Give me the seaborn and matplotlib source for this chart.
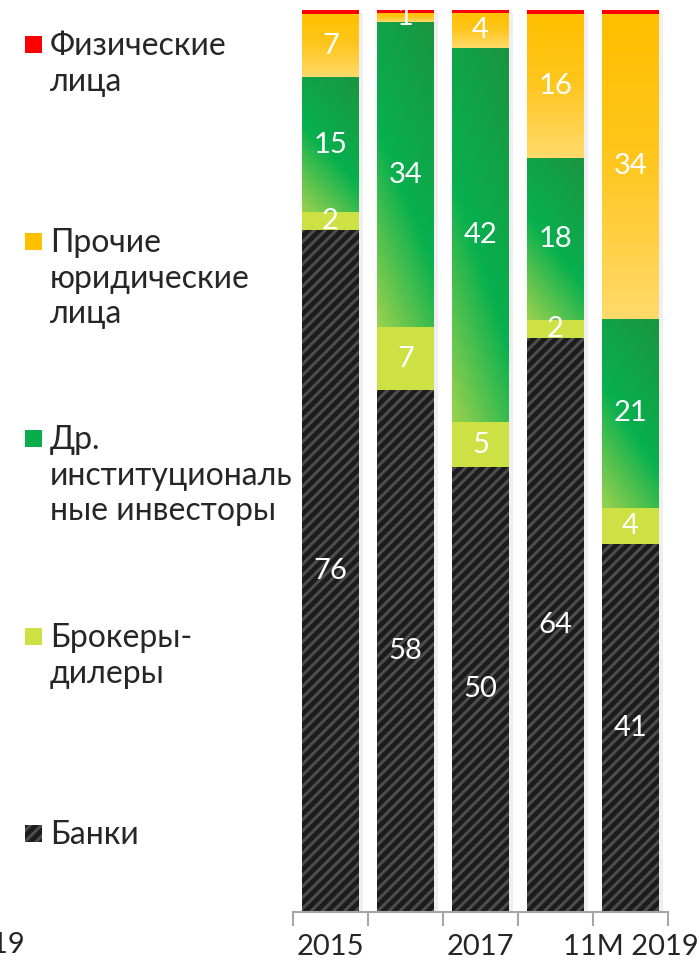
import matplotlib

matplotlib.use("Agg")
import matplotlib.pyplot as plt  # noqa: E402
import matplotlib.patheffects as pe  # noqa: E402
from matplotlib.colors import LinearSegmentedColormap  # noqa: E402
from matplotlib.patches import Rectangle  # noqa: E402
import numpy as np  # noqa: E402
import pandas as pd  # noqa: E402
import seaborn as sns  # noqa: E402

# ---------------------------------------------------------------------------
# Data (shares, %)
# ---------------------------------------------------------------------------
periods = ["2015", "2016", "2017", "2018", "11M 2019"]
tick_labels = ["2015", "", "2017", "", "11M 2019"]
banks = [76, 58, 50, 64, 41]
brokers = [2, 7, 5, 2, 4]
institutional = [15, 34, 42, 18, 21]
other_legal = [7, 1, 4, 16, 34]
individuals = [0.5, 0.3, 0.3, 0.5, 0.4]

legend_labels = [
    "Физические\nлица",
    "Прочие\nюридические\nлица",
    "Др.\nинституциональ\nные инвесторы",
    "Брокеры-\nдилеры",
    "Банки",
]

RED = "#ff0000"
YELLOW = "#ffc000"
GREEN = "#0aad4e"
LIME = "#cde044"
BLACK = "#1c1c1c"
STRIPE = "#4d4d4d"
TEXT = "#262626"
FS = 21
LEG_FS = 23

sns.set_theme(style="white")
plt.rcParams["font.family"] = ["Lato", "DejaVu Sans"]
plt.rcParams["hatch.linewidth"] = 2.2

df = pd.DataFrame({
    "period": periods,
    "banks": banks,
    "brokers": brokers,
    "institutional": institutional,
    "other_legal": other_legal,
    "individuals": individuals,
})
layers = ["banks", "brokers", "institutional", "other_legal", "individuals"]
total = df[layers].sum(axis=1)
cum = df[layers].div(total, axis=0).mul(100).cumsum(axis=1)

fig = plt.figure(figsize=(6.99, 9.63), dpi=100)
ax = fig.add_axes([293 / 699, 1 - 912 / 963, 375 / 699, 902 / 963])

# stacked bars: draw the cumulative totals from the top layer down
colors = {"individuals": RED, "other_legal": YELLOW, "institutional": GREEN,
          "brokers": LIME, "banks": BLACK}
containers = {}
for name in reversed(layers):
    kw = dict(linewidth=0, edgecolor=colors[name])
    if name == "banks":
        kw.update(hatch="///", edgecolor=STRIPE)
    sns.barplot(x=df["period"], y=cum[name], color=colors[name], width=0.76,
                saturation=1, ax=ax, **kw)
    containers[name] = ax.containers[-1]

for p in containers["individuals"].patches:
    p.set_path_effects([pe.SimplePatchShadow(offset=(3, -2), alpha=0.12,
                                             shadow_rgbFace="#808080"),
                        pe.Normal()])

green_cmap = LinearSegmentedColormap.from_list(
    "g", [(0, "#9ad24e"), (0.45, "#08b04f"), (1, "#1a9540")])
yellow_cmap = LinearSegmentedColormap.from_list(
    "y", [(0, "#ffda6a"), (0.55, "#ffc51a"), (1, "#ffc000")])

u = np.linspace(0, 1, 80)
uu, vv = np.meshgrid(u, u)
grad_diag = (vv + 0.45 * uu) / 1.45
grad_vert = vv


def paint(layer, below, cmap, grad):
    for i, p in enumerate(containers[layer].patches):
        x0, w = p.get_x(), p.get_width()
        y0, y1 = cum[below].iloc[i], p.get_height()
        im = ax.imshow(grad, cmap=cmap, vmin=0, vmax=1, origin="lower",
                       extent=(x0, x0 + w, y0, y1), aspect="auto",
                       interpolation="bilinear", zorder=1.5)
        im.set_clip_path(p)


paint("institutional", "brokers", green_cmap, grad_diag)
paint("other_legal", "institutional", yellow_cmap, grad_vert)

# value labels centred in each segment
prev = pd.Series(0.0, index=df.index)
for name in layers[:-1]:
    for i in range(len(df)):
        y = (prev.iloc[i] + cum[name].iloc[i]) / 2
        ax.text(i, y, f"{df[name].iloc[i]:g}", ha="center", va="center",
                color="white", fontsize=FS, zorder=3)
    prev = cum[name]

ax.set_xlim(-0.5, 4.5)
ax.set_ylim(0, 100)
ax.set_ylabel("")
ax.set_xlabel("")
ax.set_yticks([])
ax.set_xticks(range(len(periods)))
ax.set_xticklabels(tick_labels, fontsize=FS, color=TEXT)
ax.set_xticks(np.arange(-0.5, 5, 1), minor=True)
ax.tick_params(axis="x", which="major", bottom=True, length=0, pad=16)
ax.tick_params(axis="x", which="minor", bottom=True, length=10, width=1.5,
               color="#a6a6a6", direction="out")
for s in ["top", "left", "right"]:
    ax.spines[s].set_visible(False)
ax.spines["bottom"].set_color("#a6a6a6")
ax.spines["bottom"].set_linewidth(1.5)

# manual legend on the left
legend_y = [44, 241, 438, 636, 833]
legend_colors = [RED, YELLOW, GREEN, LIME, BLACK]
for lab, yc, col in zip(legend_labels, legend_y, legend_colors):
    sq = Rectangle((25 / 699, 1 - (yc + 9) / 963), 17 / 699, 17 / 963,
                   transform=fig.transFigure, facecolor=col, linewidth=0,
                   edgecolor=STRIPE if col == BLACK else col,
                   hatch="///" if col == BLACK else None)
    fig.patches.append(sq)
    fig.text(50 / 699, 1 - (yc - 13) / 963, lab, ha="left", va="top",
             fontsize=LEG_FS, color=TEXT, linespacing=1.23)

# clipped label from the neighbouring chart
fig.text(25 / 699, 1 - 945 / 963, "11M 2019", ha="right", va="center",
         fontsize=FS, color=TEXT)

fig.savefig("out.png", dpi=100)
